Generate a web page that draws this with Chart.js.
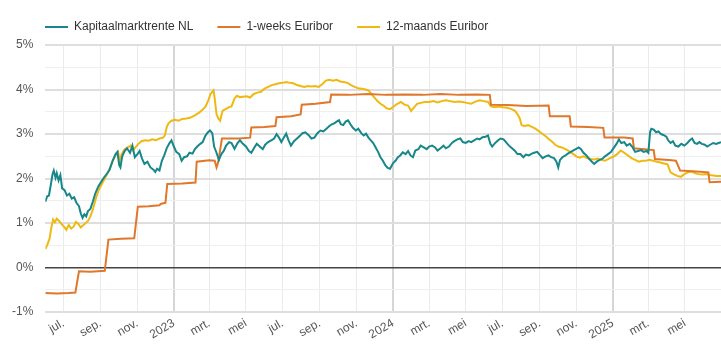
<!DOCTYPE html>
<html><head><meta charset="utf-8">
<script src="https://cdn.jsdelivr.net/npm/chart.js@4.4.1/dist/chart.umd.min.js"></script>
<style>html,body{margin:0;padding:0;background:#fff}#wrap{width:721px;height:356px;position:relative}</style>
</head><body><div id="wrap"><canvas id="c"></canvas></div>
<script>
const seriesNames = ['Kapitaalmarktrente NL', '1-weeks Euribor', '12-maands Euribor'];
const monthLabels = ['jan.', 'feb.', 'mrt.', 'apr.', 'mei', 'jun.', 'jul.', 'aug.', 'sep.', 'okt.', 'nov.', 'dec.'];
const yTickValues = [-1, 0, 1, 2, 3, 4, 5];
const xStart = '2022-06-01';
const xEnd = '2025-06-30';

const tealDates = ['2022-06-01','2022-06-04','2022-06-07','2022-06-10','2022-06-13','2022-06-15','2022-06-18','2022-06-20','2022-06-23','2022-06-26','2022-06-29','2022-07-03','2022-07-07','2022-07-11','2022-07-15','2022-07-19','2022-07-23','2022-07-27','2022-07-30','2022-08-02','2022-08-05','2022-08-08','2022-08-11','2022-08-15','2022-08-19','2022-08-23','2022-08-28','2022-09-02','2022-09-07','2022-09-12','2022-09-16','2022-09-21','2022-09-26','2022-09-29','2022-10-02','2022-10-04','2022-10-07','2022-10-11','2022-10-15','2022-10-20','2022-10-24','2022-10-28','2022-11-02','2022-11-05','2022-11-09','2022-11-13','2022-11-18','2022-11-23','2022-11-28','2022-12-01','2022-12-04','2022-12-08','2022-12-12','2022-12-16','2022-12-20','2022-12-24','2022-12-28','2023-01-01','2023-01-05','2023-01-10','2023-01-14','2023-01-18','2023-01-23','2023-01-27','2023-02-01','2023-02-05','2023-02-09','2023-02-14','2023-02-18','2023-02-22','2023-02-26','2023-03-02','2023-03-06','2023-03-09','2023-03-13','2023-03-17','2023-03-21','2023-03-25','2023-03-29','2023-04-03','2023-04-07','2023-04-12','2023-04-17','2023-04-21','2023-04-26','2023-05-01','2023-05-06','2023-05-10','2023-05-15','2023-05-19','2023-05-24','2023-05-29','2023-06-02','2023-06-07','2023-06-12','2023-06-17','2023-06-21','2023-06-25','2023-06-29','2023-07-03','2023-07-07','2023-07-11','2023-07-15','2023-07-20','2023-07-25','2023-07-30','2023-08-03','2023-08-08','2023-08-13','2023-08-18','2023-08-23','2023-08-28','2023-09-02','2023-09-07','2023-09-12','2023-09-17','2023-09-21','2023-09-25','2023-09-29','2023-10-03','2023-10-06','2023-10-10','2023-10-14','2023-10-18','2023-10-22','2023-10-26','2023-10-31','2023-11-04','2023-11-09','2023-11-13','2023-11-17','2023-11-21','2023-11-25','2023-11-29','2023-12-03','2023-12-07','2023-12-11','2023-12-15','2023-12-19','2023-12-23','2023-12-27','2024-01-01','2024-01-05','2024-01-09','2024-01-13','2024-01-17','2024-01-22','2024-01-26','2024-01-30','2024-02-03','2024-02-07','2024-02-12','2024-02-16','2024-02-21','2024-02-26','2024-03-01','2024-03-06','2024-03-11','2024-03-15','2024-03-20','2024-03-25','2024-03-29','2024-04-03','2024-04-08','2024-04-12','2024-04-17','2024-04-22','2024-04-26','2024-05-01','2024-05-06','2024-05-10','2024-05-15','2024-05-20','2024-05-24','2024-05-29','2024-06-03','2024-06-07','2024-06-11','2024-06-14','2024-06-19','2024-06-24','2024-06-28','2024-07-03','2024-07-08','2024-07-12','2024-07-17','2024-07-22','2024-07-26','2024-07-31','2024-08-05','2024-08-09','2024-08-14','2024-08-19','2024-08-23','2024-08-28','2024-09-02','2024-09-06','2024-09-11','2024-09-16','2024-09-20','2024-09-25','2024-09-29','2024-10-02','2024-10-05','2024-10-09','2024-10-14','2024-10-18','2024-10-23','2024-10-28','2024-11-01','2024-11-05','2024-11-09','2024-11-13','2024-11-18','2024-11-22','2024-11-27','2024-12-01','2024-12-05','2024-12-10','2024-12-14','2024-12-19','2024-12-24','2024-12-29','2025-01-03','2025-01-07','2025-01-11','2025-01-15','2025-01-20','2025-01-24','2025-01-29','2025-02-03','2025-02-07','2025-02-12','2025-02-17','2025-02-21','2025-02-26','2025-03-01','2025-03-04','2025-03-06','2025-03-10','2025-03-14','2025-03-18','2025-03-22','2025-03-26','2025-03-31','2025-04-03','2025-04-07','2025-04-11','2025-04-15','2025-04-20','2025-04-25','2025-04-30','2025-05-05','2025-05-09','2025-05-13','2025-05-17','2025-05-21','2025-05-25','2025-05-29','2025-06-03','2025-06-07','2025-06-12','2025-06-17','2025-06-22','2025-06-26','2025-06-30'];
const tealValues = [1.48,1.60,1.62,1.85,2.10,2.18,2.02,2.12,1.96,2.08,1.78,1.74,1.62,1.66,1.55,1.58,1.45,1.38,1.22,1.12,1.20,1.15,1.27,1.32,1.48,1.66,1.82,1.93,2.03,2.12,2.20,2.40,2.55,2.60,2.30,2.25,2.50,2.62,2.68,2.58,2.74,2.48,2.56,2.62,2.45,2.33,2.38,2.25,2.20,2.15,2.22,2.18,2.40,2.52,2.68,2.78,2.86,2.72,2.60,2.55,2.40,2.48,2.50,2.58,2.56,2.66,2.72,2.78,2.82,2.95,3.03,3.08,3.02,2.72,2.58,2.42,2.55,2.62,2.74,2.82,2.80,2.67,2.80,2.86,2.78,2.72,2.62,2.58,2.70,2.78,2.72,2.66,2.76,2.82,2.86,2.90,3.00,2.92,2.82,2.92,3.01,2.86,2.74,2.84,2.90,2.96,3.02,3.04,2.98,2.90,2.92,3.02,3.08,3.06,3.12,3.18,3.22,3.24,3.28,3.31,3.22,3.20,3.28,3.31,3.22,3.14,3.08,3.12,3.02,2.97,3.01,2.92,2.86,2.80,2.70,2.60,2.48,2.40,2.30,2.24,2.22,2.35,2.40,2.48,2.52,2.59,2.55,2.62,2.52,2.48,2.63,2.66,2.74,2.70,2.66,2.72,2.74,2.70,2.63,2.68,2.74,2.68,2.72,2.80,2.84,2.88,2.90,2.82,2.80,2.84,2.82,2.86,2.90,2.88,2.93,2.94,2.97,2.78,2.72,2.80,2.86,2.90,2.88,2.80,2.74,2.68,2.62,2.55,2.55,2.48,2.54,2.52,2.56,2.58,2.60,2.52,2.46,2.50,2.52,2.48,2.46,2.38,2.25,2.42,2.48,2.52,2.56,2.60,2.64,2.67,2.70,2.66,2.58,2.52,2.45,2.38,2.33,2.38,2.42,2.44,2.50,2.55,2.60,2.70,2.78,2.88,2.80,2.82,2.74,2.78,2.70,2.60,2.62,2.64,2.60,2.62,2.58,3.05,3.12,3.10,3.04,3.06,3.00,2.98,2.94,2.86,2.80,2.84,2.74,2.72,2.78,2.74,2.80,2.86,2.90,2.80,2.78,2.82,2.78,2.76,2.72,2.76,2.80,2.78,2.80,2.82];

const orangeDates = ['2022-06-01','2022-06-20','2022-07-10','2022-07-21','2022-07-27','2022-08-15','2022-09-08','2022-09-14','2022-10-05','2022-10-27','2022-11-02','2022-11-20','2022-12-08','2022-12-10','2022-12-18','2022-12-21','2023-01-15','2023-02-06','2023-02-08','2023-03-01','2023-03-10','2023-03-13','2023-03-16','2023-03-22','2023-04-20','2023-05-08','2023-05-10','2023-06-01','2023-06-19','2023-06-21','2023-07-15','2023-07-31','2023-08-02','2023-08-25','2023-09-18','2023-09-20','2023-10-20','2023-11-20','2023-12-20','2024-01-20','2024-02-20','2024-03-20','2024-04-20','2024-05-20','2024-06-10','2024-06-12','2024-07-10','2024-08-10','2024-09-16','2024-09-18','2024-10-21','2024-10-23','2024-11-20','2024-12-16','2024-12-18','2025-01-20','2025-02-03','2025-02-05','2025-03-10','2025-03-12','2025-04-04','2025-04-16','2025-04-23','2025-05-20','2025-06-09','2025-06-11','2025-06-30'];
const orangeValues = [-0.57,-0.58,-0.57,-0.56,-0.08,-0.09,-0.07,0.63,0.65,0.66,1.37,1.38,1.40,1.43,1.46,1.88,1.89,1.91,2.38,2.41,2.40,2.25,2.38,2.90,2.90,2.92,3.15,3.16,3.18,3.38,3.40,3.44,3.66,3.68,3.72,3.89,3.88,3.90,3.88,3.89,3.88,3.90,3.88,3.89,3.88,3.66,3.65,3.63,3.64,3.40,3.40,3.17,3.16,3.14,2.92,2.92,2.90,2.68,2.64,2.44,2.42,2.40,2.18,2.16,2.14,1.92,1.93];

const yellowDates = ['2022-06-01','2022-06-04','2022-06-08','2022-06-11','2022-06-14','2022-06-17','2022-06-20','2022-06-24','2022-06-28','2022-07-02','2022-07-06','2022-07-10','2022-07-14','2022-07-18','2022-07-22','2022-07-26','2022-07-30','2022-08-03','2022-08-07','2022-08-11','2022-08-15','2022-08-19','2022-08-24','2022-08-29','2022-09-02','2022-09-07','2022-09-12','2022-09-17','2022-09-22','2022-09-27','2022-09-30','2022-10-03','2022-10-06','2022-10-11','2022-10-16','2022-10-21','2022-10-25','2022-10-29','2022-11-03','2022-11-08','2022-11-14','2022-11-20','2022-11-26','2022-12-02','2022-12-08','2022-12-14','2022-12-17','2022-12-20','2022-12-23','2022-12-28','2023-01-03','2023-01-09','2023-01-15','2023-01-22','2023-01-29','2023-02-05','2023-02-12','2023-02-18','2023-02-23','2023-02-28','2023-03-03','2023-03-08','2023-03-10','2023-03-13','2023-03-16','2023-03-19','2023-03-23','2023-03-28','2023-04-02','2023-04-07','2023-04-12','2023-04-16','2023-04-21','2023-04-26','2023-05-02','2023-05-08','2023-05-14','2023-05-20','2023-05-26','2023-06-01','2023-06-07','2023-06-13','2023-06-19','2023-06-25','2023-07-01','2023-07-07','2023-07-13','2023-07-19','2023-07-25','2023-07-31','2023-08-06','2023-08-12','2023-08-18','2023-08-24','2023-08-30','2023-09-05','2023-09-11','2023-09-17','2023-09-23','2023-09-29','2023-10-05','2023-10-11','2023-10-17','2023-10-23','2023-10-29','2023-11-04','2023-11-10','2023-11-16','2023-11-21','2023-11-26','2023-12-01','2023-12-06','2023-12-11','2023-12-16','2023-12-21','2023-12-27','2024-01-02','2024-01-08','2024-01-14','2024-01-20','2024-01-26','2024-01-31','2024-02-05','2024-02-10','2024-02-16','2024-02-23','2024-03-01','2024-03-08','2024-03-15','2024-03-22','2024-03-29','2024-04-05','2024-04-12','2024-04-19','2024-04-26','2024-05-03','2024-05-10','2024-05-17','2024-05-24','2024-05-31','2024-06-07','2024-06-12','2024-06-18','2024-06-25','2024-07-02','2024-07-09','2024-07-16','2024-07-22','2024-07-26','2024-07-30','2024-08-02','2024-08-07','2024-08-13','2024-08-19','2024-08-25','2024-08-31','2024-09-06','2024-09-11','2024-09-16','2024-09-21','2024-09-27','2024-10-02','2024-10-08','2024-10-14','2024-10-20','2024-10-26','2024-11-01','2024-11-07','2024-11-13','2024-11-19','2024-11-25','2024-12-01','2024-12-07','2024-12-13','2024-12-19','2024-12-27','2025-01-03','2025-01-09','2025-01-14','2025-01-20','2025-01-26','2025-02-01','2025-02-07','2025-02-13','2025-02-19','2025-02-25','2025-03-03','2025-03-09','2025-03-15','2025-03-21','2025-03-27','2025-04-02','2025-04-07','2025-04-12','2025-04-18','2025-04-24','2025-04-30','2025-05-06','2025-05-12','2025-05-18','2025-05-24','2025-05-30','2025-06-05','2025-06-11','2025-06-17','2025-06-23','2025-06-30'];
const yellowValues = [0.42,0.50,0.65,0.90,1.08,1.02,1.10,1.05,0.98,0.92,0.85,0.96,0.88,0.92,1.03,0.98,0.90,0.95,1.00,1.05,1.15,1.30,1.55,1.75,1.85,1.98,2.10,2.25,2.42,2.55,2.60,2.40,2.55,2.66,2.70,2.74,2.63,2.70,2.78,2.84,2.86,2.85,2.88,2.86,2.90,2.92,2.97,3.15,3.24,3.30,3.32,3.30,3.34,3.35,3.37,3.42,3.48,3.55,3.62,3.78,3.90,3.98,3.80,3.45,3.35,3.30,3.52,3.56,3.60,3.62,3.80,3.86,3.83,3.84,3.85,3.82,3.90,3.93,3.95,4.02,4.06,4.10,4.12,4.14,4.15,4.17,4.15,4.14,4.10,4.08,4.06,4.08,4.07,4.08,4.06,4.12,4.20,4.22,4.20,4.22,4.18,4.17,4.15,4.10,4.06,4.03,4.02,4.00,3.98,3.90,3.82,3.74,3.68,3.64,3.58,3.56,3.62,3.68,3.72,3.66,3.64,3.52,3.60,3.68,3.70,3.72,3.72,3.74,3.71,3.74,3.76,3.74,3.72,3.73,3.72,3.70,3.68,3.73,3.76,3.74,3.72,3.62,3.60,3.62,3.60,3.59,3.56,3.52,3.45,3.35,3.20,3.18,3.20,3.16,3.12,3.06,3.00,2.95,2.89,2.84,2.76,2.72,2.70,2.66,2.62,2.56,2.50,2.47,2.50,2.46,2.44,2.43,2.45,2.42,2.40,2.46,2.50,2.56,2.63,2.58,2.52,2.46,2.42,2.38,2.40,2.40,2.42,2.40,2.38,2.36,2.34,2.32,2.14,2.10,2.06,2.04,2.10,2.14,2.16,2.12,2.10,2.09,2.10,2.08,2.07,2.06,2.06];

const colors = ['#17878a', '#e0772b', '#efb912'];

function toPoints(dates, values) {
  return dates.map((d, i) => ({ x: Date.parse(d), y: values[i] }));
}

const legendShift = {
  id: 'legendShift',
  afterLayout(chart) {
    if (chart.legend) { chart.legend.left = 21; chart.legend.top = -3; }
  }
};

Chart.defaults.font.family = '"Liberation Sans", Arial, sans-serif';
Chart.defaults.color = '#555';

new Chart(document.getElementById('c'), {
  type: 'line',
  data: {
    datasets: [
      { label: seriesNames[0], data: toPoints(tealDates, tealValues), borderColor: colors[0], backgroundColor: colors[0], pointBorderWidth: 2 },
      { label: seriesNames[1], data: toPoints(orangeDates, orangeValues), borderColor: colors[1], backgroundColor: colors[1], pointBorderWidth: 2 },
      { label: seriesNames[2], data: toPoints(yellowDates, yellowValues), borderColor: colors[2], backgroundColor: colors[2], pointBorderWidth: 2 }
    ]
  },
  options: {
    responsive: true,
    maintainAspectRatio: false,
    animation: false,
    layout: { padding: { left: 0, right: 0, top: 0, bottom: 10 } },
    elements: { point: { radius: 0 }, line: { borderWidth: 2, tension: 0 } },
    plugins: {
      legend: {
        position: 'top', align: 'start', maxHeight: 45,
        labels: { usePointStyle: true, pointStyle: 'line', pointStyleWidth: 23, padding: 24, color: '#333', font: { size: 12 } }
      },
      tooltip: { enabled: false }
    },
    scales: {
      x: {
        type: 'linear',
        min: Date.parse(xStart), max: Date.parse(xEnd),
        afterBuildTicks(axis) {
          const t = [];
          for (let y = 2022; y <= 2025; y++) for (let m = 0; m < 12; m += 2) {
            const v = Date.UTC(y, m, 1);
            if (v >= axis.min && v <= axis.max) t.push({ value: v });
          }
          axis.ticks = t;
        },
        ticks: {
          autoSkip: false, minRotation: 30, maxRotation: 30, padding: 4,
          font: { size: 12 }, color: '#555',
          callback(v) { const d = new Date(v); const m = d.getUTCMonth(); return m === 0 ? String(d.getUTCFullYear()) : monthLabels[m]; }
        },
        grid: {
          drawTicks: false,
          color(ctx) { return ctx.tick && new Date(ctx.tick.value).getUTCMonth() === 0 ? '#d6d6d6' : '#ebebeb'; },
          lineWidth(ctx) { return ctx.tick && new Date(ctx.tick.value).getUTCMonth() === 0 ? 2 : 1; }
        },
        border: { display: false }
      },
      y: {
        min: -1, max: 5,
        ticks: {
          stepSize: 0.5, padding: 12, font: { size: 12 }, color: '#555',
          callback(v) { return yTickValues.includes(v) ? v + '%' : ''; }
        },
        grid: {
          drawTicks: false,
          color(ctx) { const v = ctx.tick ? ctx.tick.value : 1; return v === 0 ? '#444' : (Number.isInteger(v) ? '#dedede' : '#efefef'); },
          lineWidth(ctx) { const v = ctx.tick ? ctx.tick.value : 1; return v === 0 ? 1.5 : (Number.isInteger(v) ? 2 : 1); }
        },
        border: { display: false }
      }
    }
  },
  plugins: [legendShift]
});
</script></body></html>
